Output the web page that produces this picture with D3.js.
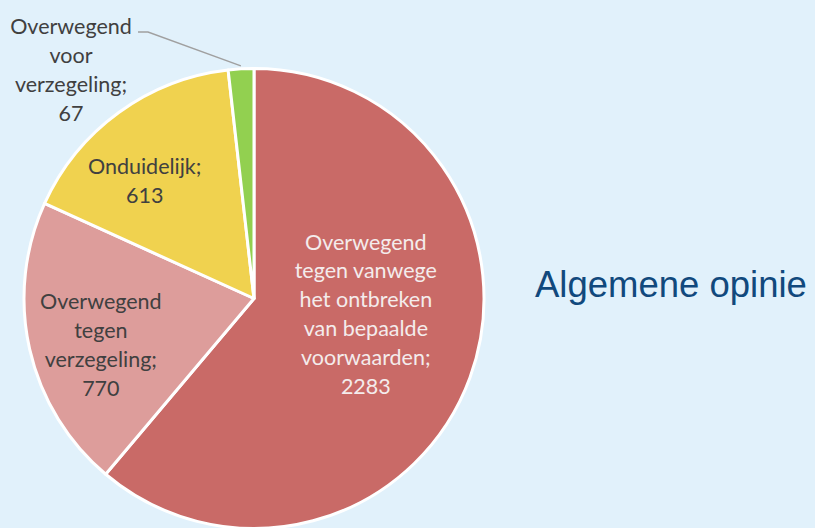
<!DOCTYPE html>
<html><head><meta charset="utf-8">
<script src="https://cdn.jsdelivr.net/npm/d3@7"></script>
<style>html,body{margin:0;padding:0;background:#E1F1FB;overflow:hidden}</style>
</head><body><svg id="c" width="815" height="528"></svg>
<script>
const categories = ["Overwegend tegen vanwege het ontbreken van bepaalde voorwaarden", "Overwegend tegen verzegeling", "Onduidelijk", "Overwegend voor verzegeling"];
const values = [2283, 770, 613, 67];
const labelLines = [
  ["Overwegend", "tegen vanwege", "het ontbreken", "van bepaalde", "voorwaarden;", "2283"],
  ["Overwegend", "tegen", "verzegeling;", "770"],
  ["Onduidelijk;", "613"],
  ["Overwegend", "voor", "verzegeling;", "67"]
];
const colors = ["#C96A67", "#DD9D9B", "#F0D24F", "#92D050"];
const title = "Algemene opinie";

const W = 815, H = 528, cx = 254, cy = 298.5, R = 230;
const svg = d3.select("#c");
svg.append("rect").attr("width", W).attr("height", H).attr("fill", "#E1F1FB");
const g = svg.append("g").attr("transform", `translate(${cx},${cy})`);
const pie = d3.pie().sort(null).value(d => d)(values);
const arc = d3.arc().innerRadius(0).outerRadius(R);
g.selectAll("path").data(pie).join("path")
  .attr("d", arc).attr("fill", (d, i) => colors[i])
  .attr("stroke", "#fff").attr("stroke-width", 3).attr("stroke-linejoin", "round");

const polar = (a, r) => [r * Math.sin(a), -r * Math.cos(a)];
// label layout: radius + nudge per slice
const lay = [{r: 118, dx: 1, dy: -17.5}, {r: 157, dx: 0, dy: 19.5}, {r: 140, dx: -27, dy: 3.5}];
const fs = 21.5, lh = 28.8;
const textCol = ["#F4ECEC", "#404040", "#404040", "#404040"];
function block(x, y, lines, col, spacing) {
  const t = svg.append("text").attr("text-anchor", "middle")
    .attr("font-family", "Lato, 'Open Sans', sans-serif").attr("font-size", fs).attr("fill", col);
  const n = lines.length;
  lines.forEach((s, k) => t.append("tspan").attr("x", x).attr("y", y + (k - (n - 1) / 2) * spacing).text(s));
}
pie.forEach((d, i) => {
  const mid = (d.startAngle + d.endAngle) / 2;
  if (i < 3) {
    const p = polar(mid, lay[i].r);
    block(cx + p[0] + lay[i].dx, cy + p[1] + lay[i].dy, labelLines[i], textCol[i], lh);
  } else {
    const p0 = polar(mid, R + 3);
    const lx = 71, ly = 77;
    svg.append("polyline")
      .attr("points", `${cx + p0[0]},${cy + p0[1]} 148,32 138,32`)
      .attr("fill", "none").attr("stroke", "#A0A0A0").attr("stroke-width", 1.5);
    block(lx, ly, labelLines[i], textCol[i], 29);
  }
});

svg.append("text").attr("x", 535).attr("y", 297)
  .attr("font-family", "'Liberation Sans', Arial, sans-serif").attr("font-size", 36.5)
  .attr("fill", "#11497D").text(title);
</script></body></html>
